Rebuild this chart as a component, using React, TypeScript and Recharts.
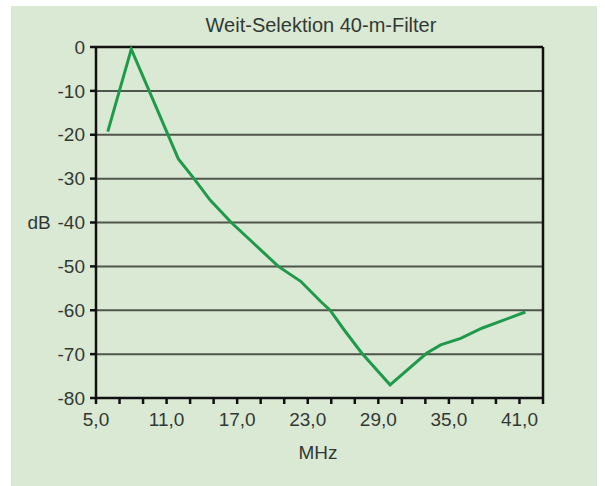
import React from "react";
import {
  LineChart,
  Line,
  XAxis,
  YAxis,
  CartesianGrid,
  ReferenceLine,
} from "recharts";

// frequency (MHz) and attenuation (dB)
const mhz = [6.0, 8.0, 12.0, 13.3, 14.7, 16.5, 18.7, 20.5, 22.4, 24.1, 24.9, 26.1, 27.6, 30.0, 33.1, 34.3, 36.0, 37.8, 41.5];
const db = [-19.3, -0.5, -25.5, -29.9, -34.9, -40.0, -45.5, -50.0, -53.4, -58.0, -60.0, -64.5, -69.8, -77.0, -69.8, -67.9, -66.4, -64.1, -60.4];

const xTicks = [5, 7, 9, 11, 13, 15, 17, 19, 21, 23, 25, 27, 29, 31, 33, 35, 37, 39, 41, 43];
const xLabelled = [5, 11, 17, 23, 29, 35, 41];
const yTicks = [-80, -70, -60, -50, -40, -30, -20, -10, 0];

const data = mhz.map((m, i) => ({ mhz: m, db: db[i] }));

const font = "'Liberation Sans', Arial, sans-serif";
const textColor = "#333833";

const fmtX = (v: number) =>
  xLabelled.includes(v) ? v.toFixed(1).replace(".", ",") : "";

export default function App() {
  return (
    <div
      style={{
        position: "relative",
        width: 605,
        height: 486,
        background: "#fff",
        fontFamily: font,
      }}
    >
      <style>{`body{margin:0}`}</style>
      <div
        style={{
          position: "absolute",
          left: 11,
          top: 6,
          width: 586,
          height: 480,
          background: "#dae9d3",
        }}
      />
      <div
        style={{
          position: "absolute",
          left: 0,
          top: 15,
          width: 642,
          textAlign: "center",
          fontSize: 20,
          lineHeight: "20px",
          color: textColor,
        }}
      >
        Weit-Selektion 40-m-Filter
      </div>
      <div
        style={{
          position: "absolute",
          left: 19,
          top: 213,
          width: 40,
          textAlign: "center",
          fontSize: 19,
          lineHeight: "19px",
          color: textColor,
        }}
      >
        dB
      </div>
      <div
        style={{
          position: "absolute",
          left: 278,
          top: 443,
          width: 80,
          textAlign: "center",
          fontSize: 19,
          lineHeight: "19px",
          color: textColor,
        }}
      >
        MHz
      </div>
      <div style={{ position: "absolute", left: 0, top: 0 }}>
        <LineChart
          width={605}
          height={486}
          data={data}
          margin={{ top: 47, right: 62, left: 36, bottom: 58 }}
        >
          <CartesianGrid
            horizontal
            vertical={false}
            stroke="#50554b"
            strokeWidth={2}
          />
          <XAxis
            type="number"
            dataKey="mhz"
            domain={[5, 43]}
            ticks={xTicks}
            tickFormatter={fmtX}
            interval={0}
            height={30}
            stroke="#111"
            strokeWidth={2.5}
            tickSize={6}
            tickMargin={9}
            tick={{ fill: textColor, fontSize: 19, fontFamily: font }}
          />
          <YAxis
            type="number"
            domain={[-80, 0]}
            ticks={yTicks}
            interval={0}
            width={60}
            stroke="#111"
            strokeWidth={2.5}
            tickSize={6}
            tickMargin={5}
            tick={{ fill: textColor, fontSize: 19, fontFamily: font }}
          />
          <ReferenceLine y={0} stroke="#111" strokeWidth={2.5} />
          <ReferenceLine x={43} stroke="#111" strokeWidth={2.5} />
          <Line
            type="linear"
            dataKey="db"
            stroke="#1f9a4b"
            strokeWidth={3}
            dot={false}
            isAnimationActive={false}
          />
        </LineChart>
      </div>
    </div>
  );
}
